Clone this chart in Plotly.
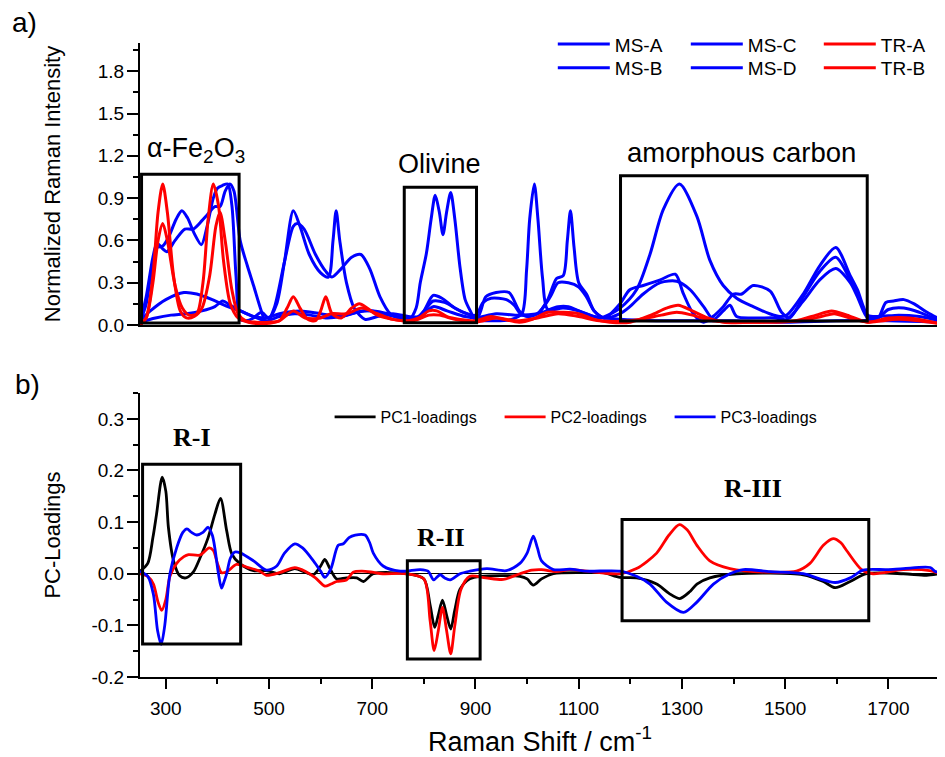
import plotly.graph_objects as go

# ---------------- data: top panel (normalized Raman spectra) ----------------
ms_a = [(250,0.03),(270,0.1),(300,0.18),(335,0.23),(360,0.22),(390,0.18),(420,0.13),(444,0.1),(470,0.06),
        (495,0.05),(520,0.08),(560,0.1),(600,0.08),(640,0.06),(680,0.1),(700,0.1),(730,0.07),(760,0.05),
        (790,0.05),(818,0.13),(845,0.1),(880,0.06),(900,0.05),(940,0.08),(980,0.07),(1020,0.08),(1060,0.13),
        (1080,0.13),(1100,0.1),(1140,0.05),(1150,0.06),(1180,0.12),(1212,0.25),(1238,0.5),(1264,0.82),
        (1295,1.0),(1329,0.77),(1354,0.46),(1380,0.28),(1406,0.19),(1438,0.13),(1470,0.08),(1490,0.06),
        (1503,0.07),(1535,0.22),(1567,0.42),(1598,0.55),(1626,0.35),(1640,0.25),(1660,0.07),(1680,0.06),
        (1720,0.07),(1760,0.06),(1800,0.03)]

ms_b = [(250,0.02),(280,0.05),(310,0.07),(340,0.08),(370,0.1),(395,0.13),(410,0.17),(425,0.14),(445,0.1),
        (470,0.06),(495,0.03),(520,0.06),(550,0.08),(580,0.07),(610,0.05),(640,0.06),(670,0.09),(700,0.1),
        (730,0.08),(760,0.04),(772,0.04),(785,0.12),(793,0.3),(805,0.51),(814,0.75),(822,0.92),(830,0.8),
        (837,0.64),(844,0.8),(852,0.94),(860,0.75),(870,0.41),(880,0.18),(890,0.1),(900,0.04),(940,0.03),
        (970,0.04),(990,0.08),(999,0.39),(1005,0.75),(1014,1.0),(1021,0.75),(1030,0.33),(1040,0.11),
        (1070,0.12),(1100,0.1),(1130,0.06),(1180,0.04),(1250,0.03),(1300,0.03),(1400,0.03),(1500,0.02),
        (1600,0.03),(1700,0.03),(1800,0.02)]

ms_c = [(250,0.02),(262,0.2),(275,0.48),(283,0.58),(294,0.54),(302,0.52),(318,0.6),(337,0.68),(353,0.68),
        (370,0.74),(380,0.78),(395,0.84),(405,0.84),(415,0.95),(424,1.0),(432,0.95),(444,0.6),(458,0.42),
        (470,0.28),(485,0.1),(495,0.01),(510,0.12),(530,0.45),(547,0.7),(555,0.72),(568,0.68),(590,0.5),
        (610,0.38),(622,0.34),(640,0.4),(660,0.48),(678,0.5),(695,0.4),(715,0.2),(735,0.08),(760,0.05),
        (785,0.05),(800,0.1),(818,0.21),(835,0.19),(860,0.12),(890,0.07),(905,0.06),(920,0.2),(940,0.23),
        (965,0.23),(985,0.1),(1000,0.06),(1020,0.08),(1040,0.18),(1057,0.33),(1070,0.35),(1078,0.6),
        (1084,0.81),(1091,0.55),(1100,0.3),(1115,0.22),(1130,0.1),(1150,0.05),(1180,0.15),(1199,0.25),
        (1225,0.28),(1258,0.32),(1287,0.36),(1303,0.22),(1322,0.08),(1342,0.02),(1360,0.06),(1380,0.13),
        (1400,0.22),(1416,0.22),(1438,0.28),(1471,0.24),(1493,0.09),(1509,0.05),(1535,0.2),(1567,0.38),
        (1598,0.48),(1626,0.32),(1640,0.22),(1660,0.06),(1680,0.05),(1695,0.16),(1710,0.17),(1730,0.18),
        (1750,0.15),(1775,0.09),(1800,0.04)]

ms_d = [(250,0.02),(262,0.15),(275,0.45),(283,0.55),(294,0.56),(305,0.62),(320,0.75),(331,0.81),(342,0.76),
        (355,0.65),(369,0.57),(380,0.7),(392,0.9),(400,0.97),(410,0.99),(420,1.0),(428,0.85),(436,0.35),
        (444,0.04),(455,0.03),(470,0.05),(485,0.09),(500,0.05),(515,0.15),(530,0.45),(547,0.81),(560,0.7),
        (578,0.5),(600,0.37),(615,0.34),(624,0.6),(630,0.81),(637,0.6),(650,0.3),(665,0.12),(686,0.04),
        (710,0.06),(740,0.08),(770,0.06),(790,0.06),(805,0.12),(818,0.17),(840,0.16),(870,0.1),(900,0.07),
        (915,0.16),(930,0.19),(960,0.18),(975,0.14),(990,0.07),(1020,0.08),(1045,0.2),(1060,0.3),(1080,0.3),
        (1100,0.27),(1115,0.2),(1130,0.1),(1150,0.05),(1180,0.08),(1199,0.13),(1225,0.22),(1258,0.3),
        (1290,0.31),(1316,0.25),(1342,0.13),(1361,0.04),(1380,0.1),(1393,0.14),(1406,0.06),(1440,0.05),
        (1480,0.05),(1503,0.04),(1535,0.17),(1567,0.32),(1598,0.4),(1626,0.3),(1640,0.2),(1660,0.05),
        (1680,0.05),(1700,0.11),(1730,0.12),(1760,0.09),(1800,0.03)]

tr_a = [(250,0.0),(262,0.05),(275,0.35),(285,0.8),(294,1.0),(303,0.8),(315,0.35),(328,0.1),(340,0.05),
        (355,0.06),(370,0.12),(385,0.35),(397,0.7),(405,0.8),(415,0.6),(428,0.25),(440,0.08),(455,0.03),
        (475,0.02),(500,0.02),(520,0.03),(535,0.12),(547,0.2),(560,0.12),(575,0.04),(590,0.03),(600,0.1),
        (610,0.2),(622,0.08),(640,0.05),(660,0.12),(675,0.15),(690,0.12),(710,0.07),(740,0.04),(770,0.03),
        (790,0.05),(810,0.1),(825,0.1),(845,0.06),(870,0.04),(900,0.03),(930,0.06),(955,0.04),(985,0.02),
        (1010,0.04),(1040,0.09),(1070,0.09),(1100,0.08),(1130,0.04),(1160,0.02),(1200,0.02),(1240,0.07),
        (1270,0.12),(1293,0.14),(1320,0.1),(1350,0.05),(1380,0.02),(1450,0.02),(1520,0.03),(1560,0.07),
        (1590,0.1),(1620,0.07),(1660,0.02),(1700,0.05),(1740,0.05),(1800,0.01)]

tr_b = [(250,0.0),(262,0.05),(275,0.3),(285,0.6),(294,0.72),(303,0.6),(318,0.28),(332,0.12),(345,0.07),
        (360,0.08),(372,0.3),(382,0.75),(392,1.0),(402,0.85),(412,0.45),(425,0.15),(440,0.05),(460,0.02),
        (490,0.01),(520,0.03),(547,0.1),(570,0.05),(600,0.05),(620,0.08),(650,0.08),(680,0.12),(710,0.08),
        (740,0.04),(780,0.03),(810,0.07),(830,0.07),(860,0.04),(900,0.02),(940,0.05),(980,0.03),(1020,0.05),
        (1060,0.08),(1100,0.06),(1140,0.03),(1200,0.03),(1260,0.07),(1290,0.09),(1320,0.07),(1360,0.03),
        (1450,0.02),(1530,0.03),(1570,0.06),(1595,0.08),(1625,0.05),(1660,0.02),(1720,0.04),(1800,0.01)]

# ---------------- data: bottom panel (PC loadings) ----------------
pc1 = [(250,0.005),(265,0.02),(275,0.07),(282,0.115),(293,0.187),(300,0.16),(305,0.09),(315,0.025),
       (327,-0.004),(339,-0.008),(353,0.003),(366,0.03),(382,0.07),(395,0.115),(406,0.146),(418,0.083),
       (428,0.038),(444,0.019),(470,0.006),(495,0.006),(520,0.0),(535,0.005),(550,0.01),(570,0.003),
       (586,-0.002),(600,0.015),(608,0.028),(618,0.01),(631,-0.01),(650,-0.008),(670,-0.008),(683,-0.015),
       (702,0.0),(767,0.0),(800,-0.01),(812,-0.06),(821,-0.104),(828,-0.08),(836,-0.051),(844,-0.08),
       (852,-0.107),(860,-0.07),(870,-0.03),(889,-0.01),(910,-0.005),(986,-0.005),(1000,-0.01),
       (1012,-0.022),(1028,-0.01),(1051,0.0),(1115,0.002),(1148,0.002),(1180,-0.007),(1212,-0.008),
       (1251,-0.02),(1275,-0.038),(1296,-0.048),(1315,-0.035),(1329,-0.02),(1354,-0.008),(1406,0.0),
       (1535,-0.002),(1574,-0.015),(1597,-0.027),(1626,-0.015),(1658,0.0),(1729,0.0),(1774,-0.003),(1800,0.0)]

pc2 = [(250,0.0),(265,-0.005),(276,-0.02),(285,-0.055),(292,-0.071),(300,-0.05),(308,-0.005),(321,0.02),
       (335,0.033),(344,0.037),(366,0.036),(384,0.05),(392,0.045),(400,0.02),(408,0.002),(420,0.005),
       (437,0.018),(460,0.012),(482,0.005),(495,-0.003),(520,0.002),(550,0.012),(570,0.005),(590,-0.008),
       (608,-0.024),(620,-0.02),(631,-0.015),(650,-0.012),(663,0.003),(680,0.005),(700,0.003),(720,0.0),
       (767,0.0),(800,-0.01),(812,-0.09),(820,-0.149),(828,-0.11),(836,-0.065),(844,-0.11),(852,-0.155),
       (860,-0.1),(872,-0.03),(889,-0.005),(920,-0.008),(954,-0.011),(986,0.0),(1009,0.007),(1028,0.008),
       (1057,0.004),(1083,0.008),(1115,0.005),(1180,0.0),(1212,0.01),(1251,0.04),(1275,0.075),(1295,0.095),
       (1310,0.085),(1329,0.055),(1354,0.025),(1393,0.01),(1471,0.003),(1522,0.005),(1548,0.02),
       (1574,0.055),(1593,0.068),(1608,0.06),(1619,0.045),(1648,0.008),(1670,0.0),(1729,0.008),
       (1780,0.006),(1800,0.0)]

pc3 = [(250,0.005),(265,-0.005),(276,-0.04),(284,-0.11),(291,-0.137),(298,-0.1),(308,0.0),(321,0.05),
       (333,0.08),(341,0.087),(350,0.08),(360,0.075),(372,0.08),(382,0.09),(390,0.075),(395,0.05),(402,0.0),
       (408,-0.028),(413,-0.015),(418,0.0),(425,0.03),(434,0.042),(445,0.04),(470,0.025),(495,0.007),
       (515,0.015),(530,0.04),(550,0.058),(565,0.05),(586,0.025),(600,0.005),(608,-0.007),(620,0.01),
       (634,0.055),(644,0.058),(655,0.07),(667,0.075),(686,0.075),(695,0.06),(702,0.04),(721,0.015),
       (754,0.005),(793,0.008),(808,0.005),(819,-0.012),(827,-0.005),(832,-0.002),(840,-0.008),(851,-0.012),
       (870,0.0),(889,0.005),(922,0.01),(960,0.006),(986,0.02),(1000,0.04),(1012,0.073),(1020,0.05),
       (1028,0.025),(1051,0.008),(1083,0.009),(1115,0.005),(1180,0.005),(1212,-0.005),(1238,-0.02),
       (1270,-0.055),(1303,-0.075),(1329,-0.055),(1361,-0.02),(1393,0.0),(1419,0.008),(1471,0.004),
       (1535,0.0),(1567,-0.01),(1597,-0.017),(1626,-0.008),(1651,0.007),(1697,0.008),(1729,0.01),
       (1781,0.012),(1790,0.005),(1800,0.002)]

# ---------------- tick labels ----------------
top_y_ticks = [0.0, 0.3, 0.6, 0.9, 1.2, 1.5, 1.8]
top_y_labels = ["0.0", "0.3", "0.6", "0.9", "1.2", "1.5", "1.8"]
bot_y_ticks = [-0.2, -0.1, 0.0, 0.1, 0.2, 0.3]
bot_y_labels = ["-0.2", "-0.1", "0.0", "0.1", "0.2", "0.3"]
x_ticks = [300, 500, 700, 900, 1100, 1300, 1500, 1700]
x_labels = ["300", "500", "700", "900", "1100", "1300", "1500", "1700"]

BLUE, RED, BLACK = "#0000FF", "#FF0000", "#000000"
SANS = "Liberation Sans, Arial, sans-serif"
SERIF = "Liberation Serif, Times New Roman, serif"


def xs(p):
    return [a for a, _ in p]


def ys(p):
    return [b for _, b in p]


fig = go.Figure()

top_series = [("MS-A", ms_a, BLUE, "legend"), ("MS-B", ms_b, BLUE, "legend2"),
              ("MS-C", ms_c, BLUE, "legend"), ("MS-D", ms_d, BLUE, "legend2"),
              ("TR-A", tr_a, RED, "legend"), ("TR-B", tr_b, RED, "legend2")]
for name, data, col, leg in top_series:
    fig.add_trace(go.Scatter(x=xs(data), y=ys(data), name=name, mode="lines",
                             line=dict(color=col, width=3, shape="spline", smoothing=0.8),
                             xaxis="x", yaxis="y", legend=leg))

bot_series = [("PC1-loadings", pc1, BLACK), ("PC2-loadings", pc2, RED), ("PC3-loadings", pc3, BLUE)]
for name, data, col in bot_series:
    fig.add_trace(go.Scatter(x=xs(data), y=ys(data), name=name, mode="lines",
                             line=dict(color=col, width=2.8, shape="spline", smoothing=0.8),
                             xaxis="x2", yaxis="y2", legend="legend3"))

axis_common = dict(showline=True, linewidth=2, linecolor="black", showgrid=False, mirror=False,
                   automargin=False, tickcolor="black", tickwidth=1.5,
                   tickfont=dict(size=19, family=SANS, color="black"))

# the page places the figure 8 px from the top-left corner, so the figure is 8 px smaller
fig.update_layout(
    template="none",
    width=937, height=749,
    margin=dict(l=132, r=5, t=35, b=80, autoexpand=False),
    paper_bgcolor="white", plot_bgcolor="white",
    font=dict(family=SANS, color="black", size=19),
    xaxis=dict(domain=[0, 1], anchor="y", range=[250, 1800], ticks="", showticklabels=False,
               zeroline=False, **axis_common),
    yaxis=dict(domain=[0.5552, 1], anchor="x", range=[0, 2.0], tickmode="array",
               tickvals=top_y_ticks, ticktext=top_y_labels, ticks="outside", ticklen=11,
               ticklabelstandoff=-1,
               minor=dict(tickmode="array", tickvals=[0.15, 0.45, 0.75, 1.05, 1.35, 1.65, 1.95],
                          ticks="outside", ticklen=5, tickwidth=1.5, tickcolor="black"),
               zeroline=False,
               title=dict(text="Normalized Raman Intensity", font=dict(size=22, family=SANS), standoff=31),
               **axis_common),
    xaxis2=dict(domain=[0, 1], anchor="y2", range=[250, 1800], tickmode="array",
                tickvals=x_ticks, ticktext=x_labels, ticks="outside", ticklen=10,
                ticklabelstandoff=3,
                minor=dict(tickmode="array", tickvals=[400, 600, 800, 1000, 1200, 1400, 1600, 1800],
                           ticks="outside", ticklen=5, tickwidth=1.5, tickcolor="black"),
                zeroline=False,
                title=dict(text="Raman Shift / cm<sup>-1</sup>", font=dict(size=27, family=SANS), standoff=14),
                **axis_common),
    yaxis2=dict(domain=[0, 0.4479], anchor="x2", range=[-0.2, 0.35], tickmode="array",
                tickvals=bot_y_ticks, ticktext=bot_y_labels, ticks="outside", ticklen=11,
                ticklabelstandoff=-1,
                minor=dict(tickmode="array", tickvals=[-0.15, -0.05, 0.05, 0.15, 0.25, 0.35],
                           ticks="outside", ticklen=5, tickwidth=1.5, tickcolor="black"),
                zeroline=True, zerolinecolor="black", zerolinewidth=1.2,
                title=dict(text="PC-Loadings", font=dict(size=22, family=SANS), standoff=25),
                **axis_common),
    legend=dict(orientation="h", x=0.516, xanchor="left", y=0.998, yanchor="middle",
                itemwidth=52, entrywidth=66, font=dict(size=19, family=SANS),
                bgcolor="rgba(0,0,0,0)", borderwidth=0, traceorder="normal"),
    legend2=dict(orientation="h", x=0.516, xanchor="left", y=0.9606, yanchor="middle",
                 itemwidth=52, entrywidth=66, font=dict(size=19, family=SANS),
                 bgcolor="rgba(0,0,0,0)", borderwidth=0, traceorder="normal"),
    legend3=dict(orientation="h", x=0.237, xanchor="left", y=0.41, yanchor="middle",
                 itemwidth=41, entrywidth=114, font=dict(size=16, family=SANS),
                 bgcolor="rgba(0,0,0,0)", borderwidth=0, traceorder="normal"),
    showlegend=True,
)

# region boxes
box_line = dict(color="black", width=3)
boxes = [("x", "y", 253, 442, 0.015, 1.07), ("x", "y", 762, 902, 0.016, 0.977),
         ("x", "y", 1181, 1659, 0.028, 1.059),
         ("x2", "y2", 255, 445, -0.136, 0.212), ("x2", "y2", 768, 909, -0.165, 0.025),
         ("x2", "y2", 1184, 1662, -0.091, 0.105)]
for xr, yr, x0, x1, y0, y1 in boxes:
    fig.add_shape(type="rect", xref=xr, yref=yr, x0=x0, x1=x1, y0=y0, y1=y1,
                  line=box_line, fillcolor="rgba(0,0,0,0)", layer="above")

# region labels
labels = [("x", "y", 358, 1.24, "α-Fe<sub>2</sub>O<sub>3</sub>", SANS, 27),
          ("x", "y", 830, 1.14, "Olivine", SANS, 27),
          ("x", "y", 1415, 1.22, "amorphous carbon", SANS, 27.5),
          ("x2", "y2", 350, 0.263, "<b>R-I</b>", SERIF, 26),
          ("x2", "y2", 834, 0.07, "<b>R-II</b>", SERIF, 26),
          ("x2", "y2", 1438, 0.166, "<b>R-III</b>", SERIF, 26)]
for xr, yr, x, y, t, fam, sz in labels:
    fig.add_annotation(xref=xr, yref=yr, x=x, y=y, text=t, showarrow=False,
                       xanchor="center", yanchor="middle", font=dict(family=fam, size=sz, color="black"))

# panel letters
fig.add_annotation(xref="paper", yref="paper", x=-0.145, y=1.0327, text="a)", showarrow=False,
                   xanchor="center", yanchor="middle", font=dict(size=28, family=SANS, color="black"))
fig.add_annotation(xref="paper", yref="paper", x=-0.14, y=0.4606, text="b)", showarrow=False,
                   xanchor="center", yanchor="middle", font=dict(size=28, family=SANS, color="black"))

fig.write_html("out.html")
